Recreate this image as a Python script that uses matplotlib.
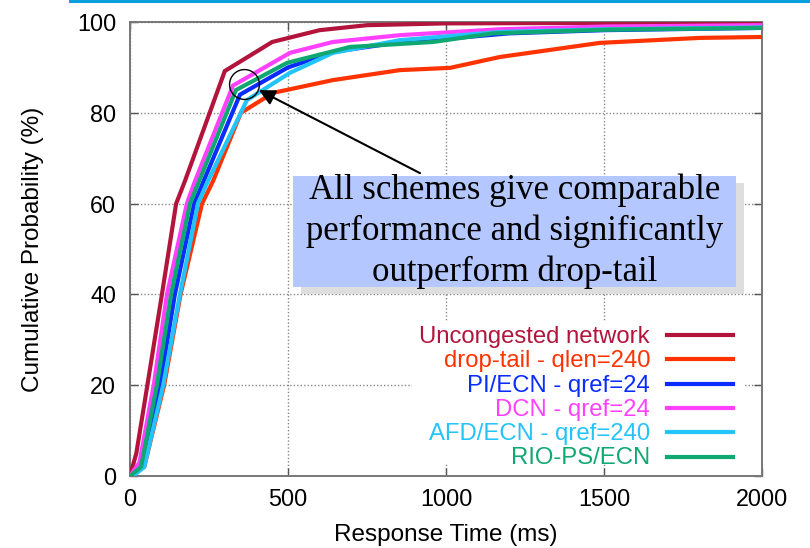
import matplotlib
matplotlib.use('Agg')
import matplotlib.pyplot as plt
from matplotlib.lines import Line2D
from matplotlib.patches import Rectangle

# ---------------- data ----------------
series_labels = ["Uncongested network", "drop-tail - qlen=240", "PI/ECN - qref=24",
                 "DCN - qref=24", "AFD/ECN - qref=240", "RIO-PS/ECN"]
series_colors = ["#b3143c", "#ff3300", "#0a2cff", "#ff40ff", "#22c4fa", "#10a872"]

unc_x = [0, 20, 55, 101, 146, 174, 300, 450, 600, 750, 1000, 1500, 2000]
unc_y = [0, 5, 20, 40, 60, 65, 89.2, 95.6, 98.2, 99.3, 99.7, 99.8, 99.9]

drop_x = [0, 45, 108, 160, 228, 263, 351, 453, 642, 854, 1013, 1171, 1487, 1804, 2000]
drop_y = [0, 2, 20, 40, 60, 65, 80, 84.4, 87.2, 89.4, 89.9, 92.3, 95.4, 96.5, 96.7]

pi_x = [0, 40, 95, 142, 203, 348, 500, 650, 850, 1000, 1200, 1500, 2000]
pi_y = [0, 2, 20, 40, 60, 84, 90, 93.5, 95.5, 96.3, 97.5, 98.2, 98.7]

dcn_x = [0, 30, 75, 117, 180, 206, 326, 506, 642, 854, 1171, 1500, 2000]
dcn_y = [0, 3, 20, 40, 60, 65, 86, 93.2, 95.6, 97.1, 98.4, 99.0, 99.3]

afd_x = [10, 45, 105, 158, 215, 247, 370, 506, 642, 854, 1171, 1500, 2000]
afd_y = [0, 2, 20, 40, 60, 65, 82.8, 88.8, 93.2, 96.0, 97.8, 98.4, 98.8]

rio_x = [0, 35, 85, 130, 190, 335, 497, 696, 959, 1149, 1500, 2000]
rio_y = [0, 2, 20, 40, 60, 85, 91, 94.5, 95.6, 97.5, 98.3, 98.7]

series_x = [unc_x, drop_x, pi_x, dcn_x, afd_x, rio_x]
series_y = [unc_y, drop_y, pi_y, dcn_y, afd_y, rio_y]

x_ticks = [0, 500, 1000, 1500, 2000]
y_ticks = [0, 20, 40, 60, 80, 100]

annotation_text = "All schemes give comparable\nperformance and significantly\noutperform drop-tail"
circle_center = (361, 86.3)
arrow_tip = (408, 85.0)
arrow_start = (918, 66.7)

# ---------------- figure ----------------
plt.rcParams['font.family'] = ['Liberation Sans', 'DejaVu Sans']

fig = plt.figure(figsize=(8.10, 5.48), dpi=100)
ax = fig.add_axes([130 / 810, 1 - 476 / 548, 632 / 810, 454 / 548])

for xs, ys, c in zip(series_x, series_y, series_colors):
    ax.plot(xs, ys, color=c, lw=3.0, solid_joinstyle='miter', zorder=3)

ax.set_xlim(0, 2000)
ax.set_ylim(0, 100)
ax.set_xticks(x_ticks)
ax.set_yticks(y_ticks)
ax.tick_params(axis='both', direction='in', length=6, width=1, color='#555555',
               labelsize=16.8, top=True, right=True)
ax.tick_params(axis='x', pad=9)
ax.tick_params(axis='y', pad=10)
ax.grid(True, color='#888888', linestyle=(0, (1, 1.5)), lw=1.0, zorder=1)
for s in ax.spines.values():
    s.set_color('#777777')
    s.set_linewidth(1.4)

ax.set_xlabel("Response Time (ms)", fontsize=17.5)
ax.set_ylabel("Cumulative Probability (%)", fontsize=17.5)
ax.xaxis.set_label_coords(0.5, -0.105)
ax.yaxis.set_label_coords(-0.136, 0.5)

# ---------------- legend (manual, right-aligned coloured labels, opaque key box) ----------------
ax.add_patch(Rectangle(((412 - 130) / 632, (476 - 463) / 454), 333 / 632, 141 / 454,
                       transform=ax.transAxes, facecolor='white', edgecolor='none', zorder=2))
row0 = (476 - 335) / 454
drow = 24.3 / 454
for i, (lab, c) in enumerate(zip(series_labels, series_colors)):
    y = row0 - i * drow
    ax.text(0.8228, y - 8 / 454, lab, transform=ax.transAxes, ha='right',
            va='baseline', color=c, fontsize=17.2, zorder=5)
    ax.add_line(Line2D([0.8497, 0.9541], [y, y], transform=ax.transAxes,
                       color=c, lw=3.0, zorder=5))

# ---------------- annotation ----------------
ax.plot([circle_center[0]], [circle_center[1]], marker='o', markersize=21.5,
        markerfacecolor='none', markeredgecolor='black', markeredgewidth=1.0, zorder=6)
ax.annotate("", xy=arrow_tip, xytext=arrow_start,
            arrowprops=dict(arrowstyle='-|>', color='black', lw=1.5,
                            mutation_scale=24, shrinkA=0, shrinkB=0), zorder=6)

bx, by = (293 - 130) / 632, (476 - 287) / 454
bw, bh = 443 / 632, 111 / 454
ax.add_patch(Rectangle((bx + 8 / 632, by - 7 / 454), bw, bh, transform=ax.transAxes,
                       facecolor='#dedede', edgecolor='none', zorder=7))
ax.add_patch(Rectangle((bx, by), bw, bh, transform=ax.transAxes,
                       facecolor='#b4c8ff', edgecolor='none', zorder=8))
ax.text(bx + bw / 2, by + bh / 2, annotation_text, transform=ax.transAxes,
        ha='center', va='center', multialignment='center', linespacing=1.3,
        fontsize=25, family=['Liberation Serif', 'DejaVu Serif'], color='black', zorder=9)

# slide decoration line at top
fig.add_artist(Line2D([70 / 810, 1.0], [1 - 1.2 / 548, 1 - 1.2 / 548],
                      transform=fig.transFigure, color='#0aa0dc', lw=2.2))

fig.savefig("out.png", dpi=100)
